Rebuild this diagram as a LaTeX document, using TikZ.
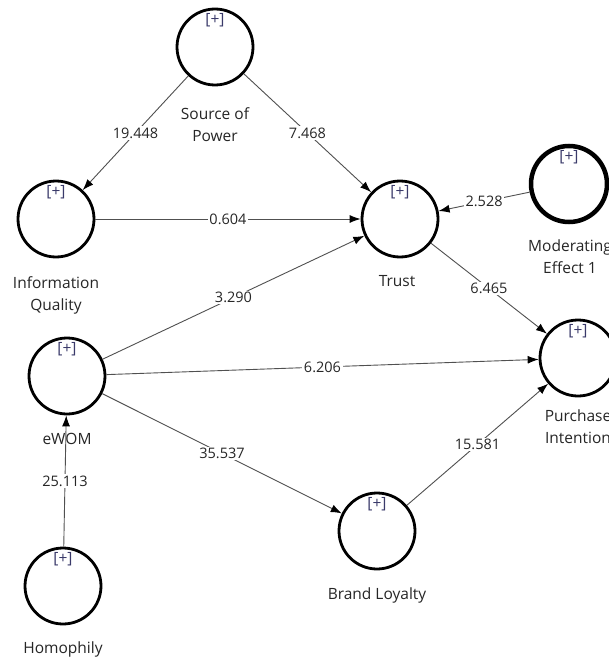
\documentclass[tikz,border=0pt]{standalone}
\usepackage{fontspec}
\setmainfont{Open Sans}
\usetikzlibrary{arrows.meta}
\definecolor{txt}{HTML}{262626}
\definecolor{plus}{HTML}{3A3A6A}
\definecolor{edge}{HTML}{505050}
\tikzset{
  lv/.style={circle, draw=black, line width=2.8pt, minimum size=76pt, inner sep=0pt},
  lvthick/.style={lv, line width=4.5pt},
  plusmark/.style={font=\fontsize{15.5}{15.5}\selectfont, text=plus, inner sep=0pt},
  lvname/.style={font=\fontsize{15.5}{22}\selectfont, text=txt, align=center, inner sep=0pt, anchor=north},
  conn/.style={draw=edge, line width=0.9pt, -{Latex[length=11pt,width=8pt,color=black]}},
  wt/.style={font=\fontsize{14.5}{14.5}\selectfont, text=txt, fill=white, inner sep=1.5pt, pos=0.5}
}
\begin{document}
\begin{tikzpicture}[x=1pt,y=-1pt]
\useasboundingbox[fill=white] (0,0) rectangle (609,658);
% latent variables
\node[lv] (sop) at (215,47) {};
\node[lv] (iq) at (56,219) {};
\node[lv] (tr) at (400,219) {};
\node[lvthick] (mod) at (569,184) {};
\node[lv] (pi) at (578,358) {};
\node[lv] (ew) at (67,376) {};
\node[lv] (bl) at (377,531) {};
\node[lv] (ho) at (63,586) {};
% plus markers
\node[plusmark] (sopp) at (215,20) {[+]};
\node[plusmark] (iqp) at (56,192) {[+]};
\node[plusmark] (trp) at (400,192) {[+]};
\node[plusmark] (modp) at (569,157) {[+]};
\node[plusmark] (pip) at (578,331) {[+]};
\node[plusmark] (ewp) at (67,349) {[+]};
\node[plusmark] (blp) at (377,504) {[+]};
\node[plusmark] (hop) at (63,559) {[+]};
% names
\node[lvname] (sopn) at (215,107) {Source of\\Power};
\node[lvname] (iqn) at (56,276) {Information\\Quality};
\node[lvname] (trn) at (397,275) {Trust};
\node[lvname] (modn) at (570,240) {Moderating\\Effect 1};
\node[lvname] (pin) at (578,410) {Purchase\\Intention};
\node[lvname] (ewn) at (67,433) {eWOM};
\node[lvname] (bln) at (377,588) {Brand Loyalty};
\node[lvname] (hon) at (63,642) {Homophily};
% connectors
\draw[conn] (sop) -- node[wt]{19.448} (iq);
\draw[conn] (sop) -- node[wt]{7.468} (tr);
\draw[conn] (iq) -- node[wt]{0.604} (tr);
\draw[conn] (mod) -- node[wt]{2.528} (tr);
\draw[conn] (tr) -- node[wt]{6.465} (pi);
\draw[conn] (ew) -- node[wt]{3.290} (tr);
\draw[conn] (ew) -- node[wt]{6.206} (pi);
\draw[conn] (ew) -- node[wt]{35.537} (bl);
\draw[conn] (bl) -- node[wt]{15.581} (pi);
\draw[conn] (ho) -- node[wt]{25.113} (ew);
\end{tikzpicture}
\end{document}
